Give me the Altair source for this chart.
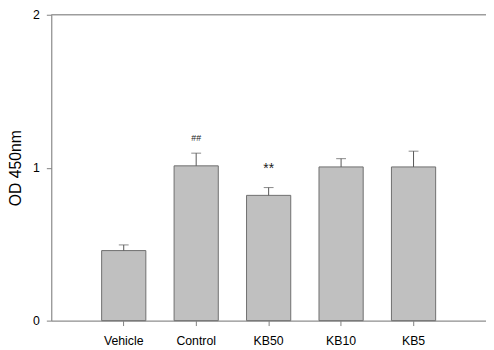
import altair as alt
import pandas as pd

groups = ["Vehicle", "Control", "KB50", "KB10", "KB5"]
means = [0.458, 1.012, 0.819, 1.005, 1.005]
errors = [0.037, 0.083, 0.051, 0.054, 0.103]
marks = ["", "##", "**", "", ""]
mark_y = [0, 1.175, 0.966, 0, 0]

df = pd.DataFrame({
    "group": groups,
    "mean": means,
    "err": errors,
    "top": [m + e for m, e in zip(means, errors)],
    "mark": marks,
    "mark_y": mark_y,
})

FONT = "Liberation Sans"
AX = "#808080"

xaxis = alt.Axis(
    title=None, labelAngle=0, labelFont=FONT, labelFontSize=12.5,
    labelColor="black", domainColor=AX, tickColor=AX, tickSize=5,
    labelPadding=9, grid=False,
)
xscale = alt.Scale(paddingInner=0.39, paddingOuter=0.695)
yaxis = alt.Axis(
    title="OD 450nm", tickCount=2, titleFont=FONT,
    titleFontSize=16, titleFontWeight="normal", titleColor="black",
    labelFont=FONT, labelFontSize=12.5, labelColor="black",
    domainColor=AX, tickColor=AX, tickSize=5, grid=False,
    labelPadding=7, titlePadding=9,
)
yscale = alt.Scale(domain=[0, 2], nice=False, zero=True)


def X():
    return alt.X("group:N", sort=groups, scale=xscale, axis=xaxis)


def Y(field):
    return alt.Y(field, type="quantitative", scale=yscale, axis=yaxis)


bars = alt.Chart(df).mark_bar(
    fill="#c0c0c0", stroke="#6e6e6e", strokeWidth=1
).encode(x=X(), y=Y("mean"))

errs = alt.Chart(df).mark_rule(color="#555555", strokeWidth=1).encode(
    x=X(), y=Y("mean"), y2="top:Q"
)
caps = alt.Chart(df).mark_tick(color="#555555", thickness=1, size=10).encode(
    x=X(), y=Y("top")
)

ann1 = alt.Chart(df[df["mark"] == "##"]).mark_text(
    font=FONT, fontSize=9, color="#222222", baseline="alphabetic"
).encode(x=X(), y=Y("mark_y"), text="mark:N")
ann2 = alt.Chart(df[df["mark"] == "**"]).mark_text(
    font=FONT, fontSize=14, color="#222222", baseline="alphabetic"
).encode(x=X(), y=Y("mark_y"), text="mark:N")

topline = alt.Chart(pd.DataFrame({"v": [2]})).mark_rule(color=AX, strokeWidth=1).encode(
    y=Y("v")
)

chart = alt.layer(bars, errs, caps, ann1, ann2, topline).properties(
    width=442, height=311,
    autosize=alt.AutoSizeParams(type="none"),
    padding={"left": 44, "top": 4, "right": 0, "bottom": 27},
).configure_view(stroke=None).configure(background="white")

chart.save("out.html", embed_options={"renderer": "svg", "actions": False})
